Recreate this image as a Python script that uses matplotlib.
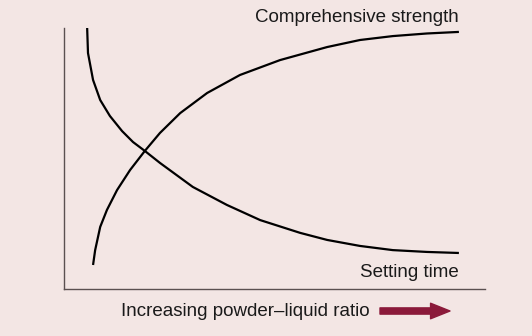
import matplotlib
matplotlib.use("Agg")
import matplotlib.pyplot as plt

# values, x and y both on a 0-100 scale
strength_x = [6.9, 7.4, 8.6, 10.2, 12.6, 15.7, 19.2, 22.8, 27.6, 34.0, 41.8, 51.3, 62.5, 70.3, 78.1, 86.2, 93.8]
strength_y = [9.2, 14.9, 23.8, 30.3, 37.9, 45.6, 52.9, 59.8, 67.4, 75.1, 82.0, 87.7, 92.7, 95.4, 96.9, 97.9, 98.5]

setting_x = [5.5, 5.7, 6.9, 8.6, 10.9, 13.8, 16.4, 19.2, 22.8, 30.6, 38.7, 46.6, 56.1, 62.5, 70.3, 78.1, 86.2, 93.8]
setting_y = [100.0, 90.4, 80.1, 72.4, 66.3, 60.5, 56.3, 52.9, 48.3, 39.1, 32.2, 26.4, 21.5, 18.8, 16.5, 14.9, 14.2, 13.8]

curve_labels = ["Comprehensive strength", "Setting time"]
x_label = "Increasing powder\u2013liquid ratio"

bg = "#f3e6e4"
plt.rcParams['font.family'] = ['Liberation Sans', 'DejaVu Sans']

fig = plt.figure(figsize=(5.32, 3.36), dpi=100, facecolor=bg)
ax = fig.add_axes([64 / 532, 47 / 336, 421 / 532, 261 / 336])
ax.set_facecolor(bg)

ax.plot(strength_x, strength_y, color="black", lw=1.6, solid_capstyle="butt", solid_joinstyle="round")
ax.plot(setting_x, setting_y, color="black", lw=1.6, solid_capstyle="butt", solid_joinstyle="round")

ax.set_xlim(0, 100)
ax.set_ylim(0, 100)
ax.set_xticks([])
ax.set_yticks([])
for s in ["top", "right"]:
    ax.spines[s].set_visible(False)
for s in ["left", "bottom"]:
    ax.spines[s].set_color("#5a5050")
    ax.spines[s].set_linewidth(1.0)

ax.text(93.8, 104.0, curve_labels[0], ha="right", va="center", fontsize=13.5, color="#1a1a1a", clip_on=False)
ax.text(93.8, 6.5, curve_labels[1], ha="right", va="center", fontsize=13.5, color="#1a1a1a")

fig.text(370 / 532, 1 - 312 / 336, x_label, ha="right", va="center", fontsize=13.5, color="#1a1a1a")
ax.annotate("", xy=(450, 25), xytext=(380, 25), xycoords="figure pixels", textcoords="figure pixels",
            arrowprops=dict(arrowstyle="simple,head_length=1.0,head_width=0.8,tail_width=0.32",
                            color="#8b1a3a", mutation_scale=14, shrinkA=0, shrinkB=0))

fig.savefig("out.png", dpi=100, facecolor=bg)
